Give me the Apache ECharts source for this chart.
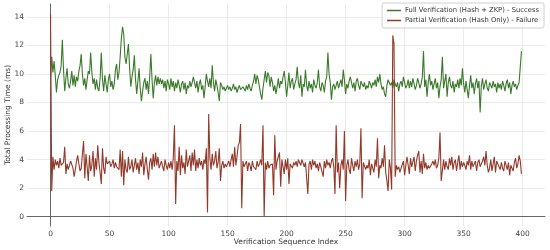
<!DOCTYPE html>
<html lang="en">
<head>
    <meta charset="UTF-8">
    <title>Verification Time</title>
    <script src="https://cdn.jsdelivr.net/npm/echarts@6/dist/echarts.min.js"></script>
    <style>
        html,body{
            margin:0;
            padding:0;
            background:#fff;
        }
        #chart{
            width:550px;
            height:250px;
        }
    </style>
</head>
<body>
<div id="chart"></div>
<script>
    var fullName = 'Full Verification (Hash + ZKP) - Success';
    var partialName = 'Partial Verification (Hash Only) - Failure';
    var xTicks = [0, 50, 100, 150, 200, 250, 300, 350, 400];
    var yTicks = [0, 2, 4, 6, 8, 10, 12, 14];

    // full verification time per sequence index (0..399)
    var fullTimes = [
        9.7, 11.2, 10.1, 10.9, 9.9, 8.7, 9.6, 9.9, 10.1, 10.6,
        12.4, 10.3, 8.8, 9.7, 10.4, 9.3, 9.0, 9.5, 10.2, 9.2,
        9.9, 9.1, 9.8, 9.5, 10.2, 10.6, 11.4, 10.0, 9.2, 9.7,
        8.9, 9.6, 10.2, 10.0, 11.5, 10.1, 9.3, 9.7, 8.9, 9.6,
        9.0, 8.8, 9.7, 11.5, 9.6, 8.8, 9.9, 9.3, 8.7, 9.6,
        10.0, 9.1, 9.5, 8.9, 9.3, 10.3, 10.7, 9.6, 10.1, 11.2,
        12.5, 13.3, 12.8, 11.2, 10.7, 11.4, 12.1, 10.4, 9.1, 9.8,
        10.3, 11.3, 9.6, 8.6, 9.5, 10.4, 9.0, 8.1, 8.8, 9.4,
        9.7, 8.9, 9.5, 8.6, 9.8, 11.4, 9.6, 8.3, 9.4, 9.9,
        9.2, 9.8, 9.3, 9.7, 9.3, 9.6, 9.0, 9.5, 8.8, 9.6,
        9.3, 8.9, 9.7, 9.1, 9.5, 8.8, 9.4, 9.0, 9.6, 9.2,
        8.7, 9.3, 9.5, 8.9, 9.4, 8.6, 9.2, 9.0, 9.5, 9.1,
        9.4, 9.8, 9.9, 9.0, 9.5, 8.7, 9.3, 9.6, 8.9, 9.2,
        8.3, 9.1, 10.0, 9.5, 9.1, 9.7, 9.0, 10.6, 9.4, 8.8,
        9.6, 9.2, 8.7, 8.1, 9.4, 9.2, 8.9, 9.1, 8.8, 9.0,
        9.2, 8.9, 9.1, 8.8, 9.0, 9.3, 8.9, 9.1, 8.7, 9.0,
        9.2, 8.9, 8.8, 9.1, 9.0, 8.8, 9.2, 8.9, 9.3, 9.0,
        8.8, 9.2, 9.5, 10.0, 9.3, 9.9, 9.6, 9.1, 8.6, 8.2,
        9.0, 9.6, 10.2, 9.4, 10.1, 9.9, 9.1, 9.8, 9.4, 8.8,
        9.2, 8.6, 9.1, 9.7, 9.0, 9.5, 9.3, 9.8, 10.2, 9.4,
        8.4, 9.2, 10.1, 9.0, 9.5, 9.7, 8.9, 9.3, 9.6, 10.5,
        9.4, 9.0, 9.9, 8.4, 9.3, 9.1, 10.3, 9.2, 8.8, 9.5,
        9.0, 9.3, 8.7, 9.6, 9.2, 9.0, 9.4, 10.3, 9.1, 8.8,
        9.4, 9.2, 8.7, 9.5, 9.8, 11.5, 10.0, 9.4, 8.2, 9.1,
        9.3, 8.9, 9.2, 9.5, 9.0, 9.3, 9.6, 9.1, 10.3, 9.6,
        8.6, 9.3, 9.0, 9.5, 9.8, 9.9, 9.0, 9.4, 8.8, 9.5,
        9.7, 9.2, 8.9, 9.5, 9.3, 9.1, 9.4, 8.9, 9.2, 9.0,
        9.5, 9.3, 9.0, 9.4, 9.2, 9.6, 9.1, 9.8, 9.4, 10.0,
        9.3, 8.9, 9.1, 8.6, 8.4, 9.2, 9.6, 9.7, 9.2, 9.4,
        9.0, 9.6, 9.3, 9.1, 9.4, 8.8, 9.3, 9.5, 9.1, 9.8,
        9.4, 9.0, 9.2, 9.6, 9.0, 9.5, 9.1, 9.7, 9.3, 8.9,
        9.2, 9.7, 9.4, 9.0, 9.3, 9.8, 11.6, 9.1, 9.6, 8.4,
        9.4, 10.0, 9.2, 9.5, 8.9, 9.3, 9.7, 9.0, 9.4, 8.3,
        9.1, 9.6, 11.2, 9.0, 9.5, 10.0, 8.4, 9.4, 9.8, 9.2,
        9.0, 9.5, 8.7, 9.3, 9.1, 9.6, 9.0, 9.7, 9.2, 10.4,
        9.3, 8.7, 9.5, 9.6, 8.3, 9.2, 9.9, 9.0, 9.4, 8.6,
        9.3, 9.7, 9.0, 9.5, 7.3, 9.2, 9.7, 8.9, 9.3, 9.6,
        9.0, 8.8, 9.4, 9.2, 9.0, 9.5, 9.1, 9.3, 8.7, 9.4,
        9.0, 9.3, 8.9, 9.5, 9.2, 8.8, 9.3, 9.6, 9.0, 9.4,
        8.6, 9.2, 9.5, 9.1, 9.3, 8.9, 9.2, 9.4, 9.5, 11.6
    ];

    // partial verification time per sequence index (0..399)
    var partialTimes = [
        14.2, 1.8, 4.2, 3.3, 4.0, 3.6, 3.9, 3.4, 4.1, 3.6,
        3.5, 3.8, 4.9, 3.0, 3.7, 3.3, 3.6, 3.9, 4.0, 3.4,
        2.8, 3.3, 3.9, 4.3, 3.7, 3.2, 3.4, 4.4, 5.3, 2.7,
        4.4, 3.5, 2.5, 4.3, 3.2, 3.6, 4.6, 2.8, 4.1, 3.3,
        5.0, 3.8, 3.1, 2.3, 4.8, 3.4, 3.0, 4.2, 3.7, 3.6,
        3.9, 3.5, 3.7, 4.0, 3.4, 3.8, 3.5, 3.6, 3.3, 4.7,
        2.8, 4.6, 2.2, 4.0, 3.3, 3.1, 4.2, 3.3, 3.5, 4.0,
        3.1, 3.6, 4.1, 3.3, 3.8, 3.0, 4.0, 3.5, 4.5, 2.9,
        3.7, 4.2, 3.3, 2.6, 3.8, 4.1, 3.3, 4.4, 3.5, 4.5,
        3.6, 4.2, 3.4, 3.3, 3.9, 3.5, 3.2, 4.0, 3.6, 3.3,
        3.8, 3.4, 3.9, 3.3, 4.1, 6.4, 0.9, 3.9, 3.2, 4.9,
        2.9, 4.3, 3.4, 3.8, 3.0, 4.7, 3.5, 3.9, 4.3, 3.2,
        4.5, 3.6, 4.7, 3.2, 4.0, 3.4, 4.1, 3.6, 3.9, 3.3,
        4.0, 3.7, 4.8, 0.3, 7.2, 4.1, 3.3, 4.4, 3.6, 3.9,
        4.6, 3.4, 3.8, 4.8, 2.5, 3.6, 3.9, 3.4, 3.7, 3.5,
        3.7, 3.9, 3.5, 4.0, 4.4, 3.5, 4.9, 3.6, 4.2, 5.0,
        5.2, 6.5, 0.6, 3.9, 3.5, 3.7, 3.9, 3.2, 3.8, 3.6,
        3.2, 3.9, 3.5, 3.6, 3.3, 3.9, 3.5, 3.7, 4.0, 3.6,
        6.4, 0.0, 3.8, 3.3, 3.9, 3.4, 3.6, 3.5, 3.7, 1.5,
        5.7, 3.3, 3.9, 4.2, 4.5, 2.1, 4.0, 3.5, 3.0, 4.0,
        3.3, 4.1, 2.3, 3.7, 3.8, 3.4, 3.8, 3.6, 3.9, 3.5,
        4.0, 3.8, 3.6, 4.0, 3.9, 3.5, 3.8, 3.9, 1.6, 3.7,
        3.9, 3.3, 4.0, 3.6, 3.9, 3.4, 3.7, 3.2, 3.8, 3.5,
        3.6, 2.8, 3.9, 3.4, 4.0, 3.6, 3.8, 3.4, 3.9, 4.1,
        3.5, 1.6, 6.4, 3.1, 3.8, 2.0, 3.6, 4.0, 3.3, 6.0,
        1.1, 3.6, 4.0, 3.3, 3.0, 4.1, 3.6, 3.2, 3.9, 3.5,
        4.0, 3.3, 3.7, 6.2, 1.3, 3.8, 3.9, 3.3, 3.6, 3.4,
        4.0, 2.9, 3.7, 3.8, 3.1, 4.0, 3.5, 5.5, 2.7, 3.6,
        3.4, 4.1, 3.5, 5.0, 3.1, 2.5, 1.8, 4.0, 3.4, 1.9,
        12.7, 12.1, 2.8, 3.6, 3.3, 3.5, 3.1, 3.4, 3.5, 3.9,
        2.9, 3.6, 4.2, 4.3, 3.0, 4.1, 3.5, 3.6, 4.2, 3.2,
        3.9, 4.3, 4.6, 3.1, 3.9, 3.0, 4.4, 3.4, 3.8, 3.3,
        3.6, 3.4, 3.5, 3.7, 3.9, 3.6, 4.0, 3.4, 3.6, 4.1,
        5.9, 2.5, 2.6, 4.0, 3.3, 3.9, 3.5, 3.3, 4.1, 3.6,
        4.2, 3.3, 3.8, 4.0, 3.2, 3.8, 4.3, 3.3, 3.9, 3.5,
        3.8, 3.6, 3.3, 3.9, 3.6, 4.3, 3.3, 3.9, 3.5, 3.7,
        3.9, 3.2, 3.8, 4.0, 3.5, 3.4, 3.9, 4.2, 3.6, 4.6,
        3.6, 3.1, 3.4, 4.0, 3.2, 3.7, 4.2, 3.1, 3.9, 3.7,
        3.5, 3.3, 3.8, 3.4, 3.2, 3.9, 3.6, 3.3, 3.8, 2.9,
        3.6, 3.5, 3.2, 3.8, 4.1, 3.4, 3.7, 4.3, 3.9, 3.0
    ];

    function toPairs(arr){
        return arr.map(function(v, i){ return [i, v]; });
    }

    var font = 'DejaVu Sans';
    var chart = echarts.init(document.getElementById('chart'), null, {renderer: 'canvas'});
    var option = {
        animation: false,
        backgroundColor: '#fff',
        textStyle: {fontFamily: font},
        grid: {left: 27, right: 5, top: 4, bottom: 24, containLabel: false, outerBoundsMode: 'none'},
        legend: {
            orient: 'vertical',
            right: 6,
            top: 3,
            padding: [4, 5, 4, 5],
            itemGap: 3,
            itemWidth: 14,
            itemHeight: 1.5,
            icon: 'rect',
            backgroundColor: 'rgba(255,255,255,0.8)',
            borderColor: '#d0d0d0',
            borderWidth: 1,
            borderRadius: 2,
            textStyle: {fontFamily: font, fontSize: 6.8, color: '#333', padding: [0, 0, 0, -1]},
            data: [fullName, partialName]
        },
        xAxis: {
            type: 'value',
            min: -19.95,
            max: 418.95,
            name: 'Verification Sequence Index',
            nameLocation: 'middle',
            nameGap: 12,
            nameMoveOverlap: false,
            nameTextStyle: {fontFamily: font, fontSize: 7.5, color: '#333'},
            axisLine: {show: true, lineStyle: {color: '#666', width: 1}},
            axisTick: {show: false, customValues: xTicks},
            axisLabel: {customValues: xTicks, fontSize: 7.5, color: '#444', margin: 4, fontFamily: font},
            splitLine: {show: true, lineStyle: {color: '#ebebeb', width: 1}}
        },
        yAxis: {
            type: 'value',
            min: -0.65,
            max: 14.9,
            name: 'Total Processing Time (ms)',
            nameLocation: 'middle',
            nameGap: 15,
            nameMoveOverlap: false,
            nameTextStyle: {fontFamily: font, fontSize: 7.5, color: '#333'},
            axisLine: {show: true, lineStyle: {color: '#666', width: 1}},
            axisTick: {show: false, customValues: yTicks},
            axisLabel: {customValues: yTicks, fontSize: 7.5, color: '#444', margin: 3, fontFamily: font},
            splitLine: {show: true, lineStyle: {color: '#ebebeb', width: 1}}
        },
        series: [
            {
                name: fullName,
                type: 'line',
                data: toPairs(fullTimes),
                showSymbol: false,
                color: '#3b7a2b',
                lineStyle: {width: 1.1, color: '#3b7a2b'}
            },
            {
                name: partialName,
                type: 'line',
                data: toPairs(partialTimes),
                showSymbol: false,
                color: '#94392a',
                lineStyle: {width: 1.1, color: '#94392a'}
            }
        ]
    };
    chart.setOption(option);
</script>
</body>
</html>
